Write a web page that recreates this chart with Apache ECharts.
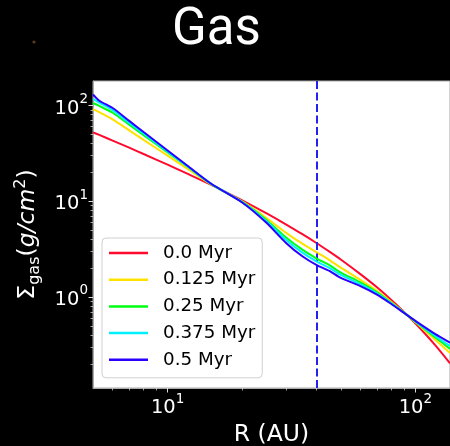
<!DOCTYPE html>
<html>
<head>
<meta charset="utf-8">
<script src="https://cdn.jsdelivr.net/npm/echarts@6/dist/echarts.min.js"></script>
<style>
html,body{margin:0;padding:0;background:#000;}
#c{width:450px;height:446px;}
</style>
</head>
<body>
<div id="c"></div>
<script>
// Radius samples (AU)
const radius = [5, 5.3, 6, 7, 8, 10, 12, 15, 20, 25, 30, 35, 40, 45, 50, 60, 70, 80, 90, 100, 120, 138];
// Surface density (g/cm^2) per snapshot
const sigma0 = [52.4, 49.2, 42.9, 36.2, 31.1, 24.1, 19.4, 14.8, 10.2, 7.49, 5.74, 4.52, 3.64, 2.97, 2.46, 1.73, 1.26, 0.929, 0.698, 0.531, 0.316, 0.203];
const sigma125 = [91.6, 85, 71.6, 55.0, 43.7, 29.9, 21.9, 15.0, 9.94, 6.72, 4.70, 3.60, 2.92, 2.43, 2.02, 1.51, 1.16, 0.887, 0.690, 0.546, 0.360, 0.260];
const sigma25 = [106, 99, 83.9, 62.9, 49.0, 32.3, 23.0, 15.1, 9.84, 6.40, 4.21, 3.12, 2.52, 2.15, 1.80, 1.42, 1.12, 0.870, 0.686, 0.552, 0.380, 0.287];
const sigma375 = [117, 107, 89.2, 65.9, 50.9, 33.0, 23.2, 15.15, 9.77, 6.20, 3.96, 2.90, 2.34, 2.01, 1.70, 1.36, 1.09, 0.858, 0.684, 0.557, 0.394, 0.308];
const sigma5 = [130, 112, 94.0, 69.0, 52.8, 33.9, 23.6, 15.2, 9.69, 5.98, 3.69, 2.66, 2.15, 1.87, 1.58, 1.30, 1.06, 0.845, 0.681, 0.562, 0.411, 0.333];
const seriesNames = ['0.0 Myr', '0.125 Myr', '0.25 Myr', '0.375 Myr', '0.5 Myr'];
const seriesColors = ['#ff0a2f', '#ffe100', '#00ff12', '#00f0ff', '#2a00ff'];
const markerR = 40;
// Ticks
const xMajor = [10, 100];
const xMinor = [6, 7, 8, 9, 20, 30, 40, 50, 60, 70, 80, 90];
const yMajor = [1, 10, 100];
const yMinor = [0.2, 0.3, 0.4, 0.5, 0.6, 0.7, 0.8, 0.9, 2, 3, 4, 5, 6, 7, 8, 9, 20, 30, 40, 50, 60, 70, 80, 90];
const xRange = [5, 138];
const yRange = [0.112, 180];

const allSigma = [sigma0, sigma125, sigma25, sigma375, sigma5];
const chart = echarts.init(document.getElementById('c'), null, {renderer: 'canvas'});
const F = 'DejaVu Sans';
const powLabel = v => '{b|10}{e|' + Math.round(Math.log10(v)) + '}';
const labelRich = {
  b: {fontSize: 19.5, fontFamily: F, color: '#fff', lineHeight: 26, verticalAlign: 'bottom'},
  e: {fontSize: 13.5, fontFamily: F, color: '#fff', lineHeight: 14, verticalAlign: 'top'}
};

const series = allSigma.map((s, i) => ({
  name: seriesNames[i],
  type: 'line',
  xAxisIndex: 0, yAxisIndex: 0,
  data: radius.map((r, j) => [r, s[j]]),
  showSymbol: false,
  smooth: 0.25,
  color: seriesColors[i],
  lineStyle: {width: 2, color: seriesColors[i]},
  z: 3 + i,
  animation: false
}));
series[series.length - 1].markLine = {
  silent: true, symbol: 'none', animation: false,
  label: {show: false},
  lineStyle: {color: '#2222ee', width: 2, type: [8, 3.5]},
  data: [{xAxis: markerR}]
};

chart.setOption({
  backgroundColor: '#000',
  animation: false,
  title: {
    text: 'Gas', left: 167, top: 1,
    textStyle: {color: '#fff', fontSize: 51, fontWeight: 'normal', fontFamily: 'Roboto'}
  },
  graphic: [{type: 'circle', shape: {cx: 34, cy: 42, r: 1.6}, style: {fill: '#5a3c18'}, silent: true}],
  grid: {
    left: 93, top: 81, width: 357, height: 307,
    outerBoundsMode: 'none', containLabel: false,
    show: true, backgroundColor: '#fff', borderColor: '#aaa', borderWidth: 1
  },
  legend: {
    orient: 'vertical', left: 102, top: 238,
    data: seriesNames,
    icon: 'rect', itemWidth: 39, itemHeight: 2.5, itemGap: 6.7,
    backgroundColor: '#fff', borderColor: '#d0d0d0', borderWidth: 1, borderRadius: 4,
    padding: [5, 7, 8, 7],
    textStyle: {color: '#000', fontSize: 18.3, fontFamily: F, lineHeight: 20, padding: [0, 0, 0, 10]}
  },
  xAxis: [{
    type: 'log', logBase: 10, min: xRange[0], max: xRange[1],
    name: 'R (AU)', nameLocation: 'middle', nameGap: 33,
    nameTextStyle: {color: '#fff', fontSize: 23.5, fontFamily: F},
    axisLine: {show: true, lineStyle: {color: '#aaa', width: 1}},
    axisTick: {show: true, length: 4.5, lineStyle: {color: '#ddd', width: 1}, customValues: xMajor},
    axisLabel: {show: true, margin: 4, customValues: xMajor, formatter: powLabel, rich: labelRich},
    splitLine: {show: false}, minorTick: {show: false}
  }, {
    type: 'log', logBase: 10, min: xRange[0], max: xRange[1], position: 'bottom',
    axisLine: {show: false},
    axisTick: {show: true, length: 2.5, lineStyle: {color: '#ccc', width: 0.8}, customValues: xMinor},
    axisLabel: {show: false}, splitLine: {show: false}
  }],
  yAxis: [{
    type: 'log', logBase: 10, min: yRange[0], max: yRange[1],
    name: '{m|Σ}{s|gas}{m|(}{i|g/cm}{p|2}{m|)}', nameLocation: 'middle', nameGap: 50,
    nameTextStyle: {
      color: '#fff', fontFamily: F,
      rich: {
        m: {fontSize: 23.5, fontFamily: F, color: '#fff', lineHeight: 30, verticalAlign: 'middle'},
        i: {fontSize: 23.5, fontFamily: F, fontStyle: 'italic', color: '#fff', lineHeight: 30, verticalAlign: 'middle'},
        s: {fontSize: 16, fontFamily: F, color: '#fff', lineHeight: 16, verticalAlign: 'bottom'},
        p: {fontSize: 16, fontFamily: F, color: '#fff', lineHeight: 16, verticalAlign: 'top'}
      }
    },
    axisLine: {show: true, lineStyle: {color: '#aaa', width: 1}},
    axisTick: {show: true, length: 4.5, lineStyle: {color: '#ddd', width: 1}, customValues: yMajor},
    axisLabel: {show: true, margin: 5, customValues: yMajor, formatter: powLabel, rich: labelRich},
    splitLine: {show: false}, minorTick: {show: false}
  }, {
    type: 'log', logBase: 10, min: yRange[0], max: yRange[1], position: 'left',
    axisLine: {show: false},
    axisTick: {show: true, length: 2.5, lineStyle: {color: '#ccc', width: 0.8}, customValues: yMinor},
    axisLabel: {show: false}, splitLine: {show: false}
  }],
  series: series
});
</script>
</body>
</html>
